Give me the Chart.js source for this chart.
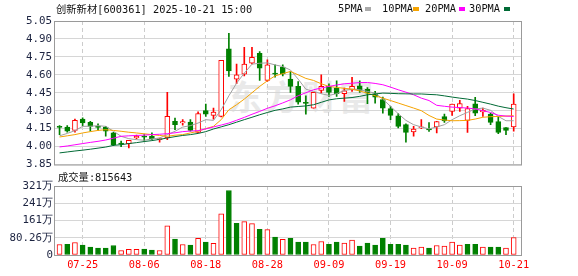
<!DOCTYPE html>
<html lang="zh">
<head>
    <meta charset="UTF-8">
    <title>创新新材 日K</title>
    <script src="https://cdn.jsdelivr.net/npm/chart.js"></script>
    <style>
        body {
            margin: 0;
            background: #fff;
            font-family: "DejaVu Sans Mono", "Noto Sans CJK SC", monospace;
        }
        .wrap {
            position: relative;
            width: 578px;
            height: 276px;
            overflow: hidden;
        }
        canvas {
            position: absolute;
            left: 0;
        }
        .txt {
            position: absolute;
            font-size: 10.3px;
            line-height: 13px;
            color: #111;
            white-space: nowrap;
        }
        .box {
            position: absolute;
            width: 6px;
            height: 4px;
        }
        .mark {
            position: absolute;
            left: 228px;
            top: 71px;
            font-family: "Noto Sans CJK SC", sans-serif;
            font-size: 34px;
            font-weight: bold;
            letter-spacing: 3px;
            color: #e9e9e9;
        }
    </style>
</head>
<body>
<div class="wrap">
    <div class="mark">东方财富</div>
    <canvas id="kChart" width="578" height="173" style="top:0"></canvas>
    <canvas id="volChart" width="578" height="103" style="top:173px"></canvas>

    <div class="txt" id="title" style="left:56px; top:3px;"></div>
    <div class="txt" style="left:338px; top:2px;">5PMA</div>
    <div class="box" style="left:365px; top:7px; background:#aaaaaa;"></div>
    <div class="txt" style="left:382px; top:2px;">10PMA</div>
    <div class="box" style="left:413px; top:7px; background:#f5a300;"></div>
    <div class="txt" style="left:425px; top:2px;">20PMA</div>
    <div class="box" style="left:459px; top:7px; background:#ff00ff;"></div>
    <div class="txt" style="left:469px; top:2px;">30PMA</div>
    <div class="box" style="left:504px; top:7px; background:#006a35;"></div>
    <div class="txt" id="volTitle" style="left:58px; top:171px;"></div>
</div>
<script>
    const stockName = '创新新材[600361]';
    const stamp = '2025-10-21 15:00';
    const lastVolume = 815643;

    // 交易日
    const dates = [
        '07-22', '07-23', '07-24', '07-25', '07-28', '07-29', '07-30', '07-31', '08-01', '08-04',
        '08-05', '08-06', '08-07', '08-08', '08-11', '08-12', '08-13', '08-14', '08-15', '08-18',
        '08-19', '08-20', '08-21', '08-22', '08-25', '08-26', '08-27', '08-28', '08-29', '09-01',
        '09-02', '09-03', '09-04', '09-05', '09-08', '09-09', '09-10', '09-11', '09-12', '09-15',
        '09-16', '09-17', '09-18', '09-19', '09-22', '09-23', '09-24', '09-25', '09-26', '09-29',
        '09-30', '10-09', '10-10', '10-13', '10-14', '10-15', '10-16', '10-17', '10-20', '10-21'
    ];
    const tickDates = ['07-25', '08-06', '08-18', '08-28', '09-09', '09-19', '10-09', '10-21'];

    const openP = [
        4.17, 4.164, 4.136, 4.23, 4.203, 4.17, 4.164, 4.114, 4.03, 4.025,
        4.072, 4.088, 4.086, 4.058, 4.072, 4.211, 4.198, 4.205, 4.119, 4.30,
        4.261, 4.253, 4.817, 4.564, 4.605, 4.697, 4.78, 4.553, 4.615, 4.664,
        4.564, 4.503, 4.37, 4.322, 4.47, 4.503, 4.489, 4.442, 4.475, 4.508,
        4.48, 4.442, 4.392, 4.317, 4.258, 4.183, 4.122, 4.155, 4.15, 4.164,
        4.25, 4.294, 4.322, 4.219, 4.358, 4.289, 4.272, 4.208, 4.158, 4.164
    ];
    const highP = [
        4.175, 4.175, 4.23, 4.241, 4.211, 4.19, 4.17, 4.12, 4.045, 4.053,
        4.097, 4.10, 4.114, 4.072, 4.453, 4.238, 4.225, 4.225, 4.291, 4.355,
        4.322, 4.722, 4.947, 4.69, 4.83, 4.83, 4.794, 4.725, 4.683, 4.683,
        4.628, 4.544, 4.425, 4.453, 4.60, 4.525, 4.55, 4.489, 4.58, 4.55,
        4.494, 4.461, 4.414, 4.336, 4.275, 4.191, 4.169, 4.225, 4.20, 4.211,
        4.272, 4.355, 4.386, 4.336, 4.411, 4.322, 4.28, 4.253, 4.158, 4.442
    ];
    const lowP = [
        4.10, 4.12, 4.12, 4.175, 4.128, 4.136, 4.086, 4.008, 4.00, 3.989,
        4.064, 4.045, 4.058, 4.036, 4.058, 4.141, 4.178, 4.128, 4.119, 4.253,
        4.23, 4.247, 4.586, 4.525, 4.591, 4.691, 4.553, 4.544, 4.58, 4.591,
        4.453, 4.355, 4.272, 4.322, 4.447, 4.419, 4.419, 4.378, 4.461, 4.453,
        4.358, 4.364, 4.28, 4.225, 4.155, 4.036, 4.086, 4.15, 4.127, 4.114,
        4.203, 4.261, 4.294, 4.119, 4.258, 4.253, 4.183, 4.108, 4.10, 4.128
    ];
    const closeP = [
        4.16, 4.128, 4.219, 4.197, 4.169, 4.16, 4.128, 4.017, 4.02, 4.053,
        4.086, 4.078, 4.064, 4.066, 4.253, 4.183, 4.208, 4.136, 4.275, 4.27,
        4.289, 4.722, 4.633, 4.60, 4.689, 4.747, 4.655, 4.683, 4.605, 4.608,
        4.503, 4.372, 4.36, 4.453, 4.503, 4.453, 4.442, 4.467, 4.503, 4.47,
        4.447, 4.414, 4.322, 4.261, 4.169, 4.119, 4.147, 4.165, 4.139, 4.21,
        4.215, 4.355, 4.36, 4.317, 4.28, 4.303, 4.203, 4.119, 4.136, 4.355
    ];
    const prevClose = 4.14; // 07-21 收盘

    const ma5 = [
        4.09, 4.11, 4.133, 4.169, 4.17, 4.175, 4.169, 4.128, 4.086, 4.066,
        4.058, 4.053, 4.064, 4.072, 4.10, 4.128, 4.163, 4.175, 4.197, 4.225,
        4.219, 4.308, 4.425, 4.53, 4.614, 4.689, 4.697, 4.70, 4.683, 4.669,
        4.64, 4.564, 4.48, 4.461, 4.442, 4.428, 4.442, 4.47, 4.48, 4.475,
        4.461, 4.447, 4.397, 4.336, 4.275, 4.219, 4.183, 4.164, 4.148, 4.164,
        4.183, 4.225, 4.258, 4.286, 4.314, 4.322, 4.303, 4.252, 4.216, 4.216
    ];
    const ma10 = [
        4.08, 4.09, 4.10, 4.114, 4.125, 4.135, 4.141, 4.135, 4.128, 4.12,
        4.114, 4.107, 4.10, 4.093, 4.086, 4.095, 4.10, 4.114, 4.128, 4.15,
        4.169, 4.225, 4.308, 4.35, 4.397, 4.45, 4.503, 4.55, 4.591, 4.61,
        4.628, 4.60, 4.57, 4.553, 4.525, 4.503, 4.495, 4.487, 4.48, 4.465,
        4.447, 4.425, 4.405, 4.385, 4.364, 4.343, 4.322, 4.30, 4.26, 4.23,
        4.222, 4.216, 4.217, 4.219, 4.23, 4.245, 4.25, 4.252, 4.255, 4.258
    ];
    const ma20 = [
        3.997, 4.005, 4.015, 4.025, 4.035, 4.044, 4.055, 4.07, 4.086, 4.09,
        4.093, 4.096, 4.10, 4.103, 4.108, 4.115, 4.125, 4.13, 4.133, 4.148,
        4.164, 4.18, 4.197, 4.22, 4.244, 4.27, 4.294, 4.32, 4.341, 4.365,
        4.391, 4.425, 4.45, 4.475, 4.49, 4.503, 4.515, 4.525, 4.53, 4.535,
        4.536, 4.528, 4.517, 4.497, 4.475, 4.455, 4.433, 4.405, 4.385, 4.345,
        4.337, 4.33, 4.326, 4.322, 4.315, 4.30, 4.285, 4.262, 4.255, 4.252
    ];
    const ma30 = [
        3.947, 3.955, 3.963, 3.97, 3.978, 3.987, 3.996, 4.01, 4.016, 4.025,
        4.033, 4.042, 4.05, 4.06, 4.072, 4.083, 4.093, 4.10, 4.11, 4.125,
        4.147, 4.165, 4.183, 4.204, 4.225, 4.245, 4.266, 4.285, 4.303, 4.315,
        4.33, 4.335, 4.34, 4.35, 4.37, 4.39, 4.40, 4.405, 4.41, 4.42,
        4.433, 4.44, 4.447, 4.445, 4.442, 4.441, 4.44, 4.44, 4.436, 4.433,
        4.424, 4.414, 4.405, 4.397, 4.385, 4.37, 4.355, 4.338, 4.325, 4.314
    ];

    // 成交量(万)
    const volumes = [
        49, 50, 58, 46, 37, 32, 32, 44, 21, 26,
        26, 27, 23, 21, 136, 74, 49, 46, 77, 60,
        54, 192, 300, 147, 155, 146, 119, 118, 83, 73,
        77, 60, 60, 49, 63, 50, 60, 55, 69, 41,
        55, 46, 78, 50, 50, 46, 32, 37, 32, 44,
        41, 60, 46, 50, 50, 37, 37, 37, 32, 81.56
    ];

    const priceTicks = [3.85, 4.00, 4.15, 4.30, 4.45, 4.60, 4.75, 4.90, 5.05];
    const volTicks = [0, 80.26, 161, 241, 321];

    const RED = '#ff0000';
    const GREEN = '#008000';
    const tickFont = { family: 'DejaVu Sans Mono', size: 10.8 };
    const tickIdx = tickDates.map(d => dates.indexOf(d));

    document.getElementById('title').textContent = stockName + ' ' + stamp;
    document.getElementById('volTitle').textContent = '成交量:' + lastVolume;

    // 边框
    const frame = {
        id: 'frame',
        afterDraw(chart) {
            const a = chart.chartArea;
            const ctx = chart.ctx;
            ctx.save();
            ctx.strokeStyle = '#9a9a9a';
            ctx.lineWidth = 1;
            ctx.strokeRect(a.left + 0.5, a.top + 0.5, a.right - a.left - 1, a.bottom - a.top);
            ctx.restore();
        }
    };

    function xAxis(showLabels) {
        return {
            type: 'linear',
            offset: false,
            min: -0.72,
            max: 60.08,
            afterBuildTicks: s => { s.ticks = tickIdx.map(v => ({ value: v })); },
            afterFit: s => { s.height = showLabels ? 21 : 0; },
            grid: { color: '#cccccc', drawTicks: false, offset: false },
            border: { display: false, dash: [4, 3] },
            ticks: {
                display: showLabels,
                autoSkip: false,
                maxRotation: 0,
                padding: 4,
                color: RED,
                font: { family: 'DejaVu Sans Mono', size: 10.3 },
                callback: v => dates[v]
            }
        };
    }

    const up = closeP.map((c, i) => c >= openP[i]);
    const candleFill = up.map(u => u ? '#ffffff' : GREEN);
    const candleLine = up.map(u => u ? RED : GREEN);

    function maLine(values, color) {
        return {
            type: 'line',
            data: values.map((v, i) => ({ x: i, y: v })),
            borderColor: color,
            borderWidth: 1,
            pointRadius: 0,
            tension: 0,
            order: 0
        };
    }

    new Chart(document.getElementById('kChart'), {
        type: 'bar',
        data: {
            datasets: [
                {
                    data: lowP.map((v, i) => ({ x: i, y: [v, highP[i]] })),
                    backgroundColor: candleLine,
                    barThickness: 1,
                    grouped: false,
                    order: 3
                },
                {
                    data: openP.map((v, i) => ({ x: i, y: [v, closeP[i]] })),
                    backgroundColor: candleFill,
                    borderColor: candleLine,
                    borderWidth: 1,
                    borderSkipped: false,
                    barThickness: 5,
                    grouped: false,
                    order: 2
                },
                maLine(ma30, '#006a35'),
                maLine(ma20, '#ff00ff'),
                maLine(ma10, '#f5a300'),
                maLine(ma5, '#a0a0a0')
            ]
        },
        options: {
            responsive: false,
            animation: false,
            layout: { padding: { top: 21, bottom: 8, left: 0, right: 56 } },
            plugins: { legend: { display: false }, tooltip: { enabled: false } },
            scales: {
                x: xAxis(false),
                y: {
                    min: 3.85,
                    max: 5.05,
                    afterBuildTicks: s => { s.ticks = priceTicks.map(v => ({ value: v })); },
                    afterFit: s => { s.width = 54; },
                    grid: { color: '#d6d6d6', drawTicks: false },
                    border: { display: false },
                    ticks: {
                        padding: 2,
                        color: '#1c2340',
                        font: tickFont,
                        callback: v => v.toFixed(2)
                    }
                }
            }
        },
        plugins: [frame]
    });

    // 成交量颜色按昨收比较
    const volUp = closeP.map((c, i) => c >= (i === 0 ? prevClose : closeP[i - 1]));

    new Chart(document.getElementById('volChart'), {
        type: 'bar',
        data: {
            datasets: [{
                data: volumes.map((v, i) => ({ x: i, y: v })),
                backgroundColor: volUp.map(u => u ? '#ffffff' : GREEN),
                borderColor: volUp.map(u => u ? RED : GREEN),
                borderWidth: 1,
                borderSkipped: false,
                barThickness: 5
            }]
        },
        options: {
            responsive: false,
            animation: false,
            layout: { padding: { top: 13, bottom: 0, left: 0, right: 56 } },
            plugins: { legend: { display: false }, tooltip: { enabled: false } },
            scales: {
                x: xAxis(true),
                y: {
                    min: 0,
                    max: 321,
                    afterBuildTicks: s => { s.ticks = volTicks.map(v => ({ value: v })); },
                    afterFit: s => { s.width = 54; },
                    grid: { color: '#d6d6d6', drawTicks: false },
                    border: { display: false },
                    ticks: {
                        padding: 1,
                        color: '#1c2340',
                        font: tickFont,
                        callback: v => v === 0 ? '0' : v + '万'
                    }
                }
            }
        },
        plugins: [frame]
    });
</script>
</body>
</html>
